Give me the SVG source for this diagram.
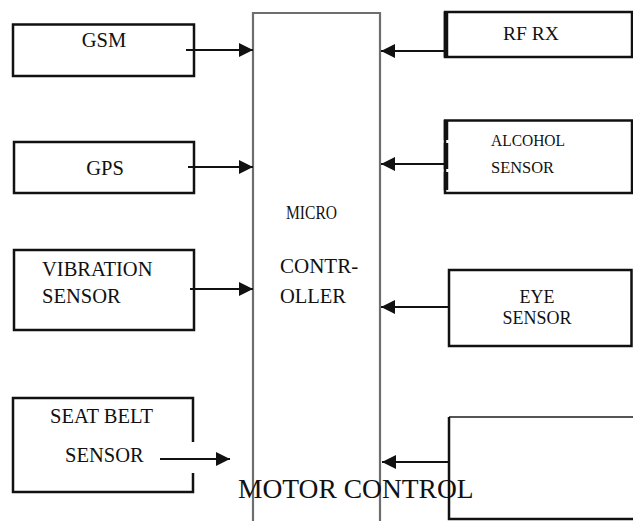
<svg xmlns="http://www.w3.org/2000/svg" width="633" height="521" viewBox="0 0 633 521">
<defs>
<style>
.box{fill:#fff;stroke:#111;stroke-width:2.5}
.t{font-family:'Liberation Serif','DejaVu Serif',serif;font-size:20.5px;fill:#111}
.s{font-size:17px}
.mc{fill:none;stroke:#6e6e6e;stroke-width:2.2}
.ln{stroke:#111;stroke-width:2.2;fill:none}
</style>
<marker id="ah" viewBox="0 0 10 10" refX="10" refY="5" markerUnits="userSpaceOnUse" markerWidth="15" markerHeight="14" orient="auto">
<path d="M0,0 L10,5 L0,10 z" fill="#111"/>
</marker>
</defs>
<rect width="633" height="521" fill="#fff"/>

<g id="microcontroller">
<path class="mc" d="M253,521 V13 H380 V521"/>
<text class="t" font-family="Liberation Serif, serif" x="286" y="219" textLength="51" lengthAdjust="spacingAndGlyphs" style="font-size:19px">MICRO</text>
<text class="t" font-family="Liberation Serif, serif" x="280" y="273" style="font-size:21px">CONTR-</text>
<text class="t" font-family="Liberation Serif, serif" x="280" y="303" style="font-size:20.5px">OLLER</text>
</g>

<g id="gsm">
<rect class="box" x="13" y="24.5" width="181" height="51.5"/>
<text class="t" font-family="Liberation Serif, serif" x="104" y="47" text-anchor="middle">GSM</text>
</g>

<g id="gps">
<rect class="box" x="14" y="142" width="180" height="51"/>
<text class="t" font-family="Liberation Serif, serif" x="105" y="175" text-anchor="middle">GPS</text>
</g>

<g id="vibration">
<rect class="box" x="14" y="250" width="180" height="80"/>
<text class="t" font-family="Liberation Serif, serif" x="42" y="276">VIBRATION</text>
<text class="t" font-family="Liberation Serif, serif" x="42" y="303">SENSOR</text>
</g>

<g id="seatbelt">
<path class="box" style="fill:none" d="M193,442 V398 H13 V492 H193 V473"/>
<text class="t" font-family="Liberation Serif, serif" x="50" y="423">SEAT BELT</text>
<text class="t" font-family="Liberation Serif, serif" x="65" y="462">SENSOR</text>
</g>

<g id="rfrx">
<rect class="box" x="445" y="12" width="187" height="45"/>
<line x1="446" y1="12" x2="446" y2="57" stroke="#111" stroke-width="4.5"/>
<text class="t" font-family="Liberation Serif, serif" x="503" y="40" textLength="56" lengthAdjust="spacingAndGlyphs" style="font-size:19px">RF RX</text>
</g>

<g id="alcohol">
<rect class="box" x="445" y="120.5" width="187" height="72.5"/>
<line x1="446" y1="120" x2="446" y2="193" stroke="#111" stroke-width="4.5" stroke-dasharray="20,3,26,3,18,3"/>
<text class="t s" font-family="Liberation Serif, serif" x="491" y="146" textLength="74" lengthAdjust="spacingAndGlyphs">ALCOHOL</text>
<text class="t s" font-family="Liberation Serif, serif" x="491" y="173" textLength="63" lengthAdjust="spacingAndGlyphs">SENSOR</text>
</g>

<g id="eye">
<rect class="box" x="449" y="270" width="182.5" height="76"/>
<text class="t" font-family="Liberation Serif, serif" x="537" y="303" text-anchor="middle" style="font-size:18px">EYE</text>
<text class="t" font-family="Liberation Serif, serif" x="537" y="324" text-anchor="middle" style="font-size:18px">SENSOR</text>
</g>

<g id="motorbox">
<path d="M449,417 H633" stroke="#555" stroke-width="2" fill="none"/>
<path d="M449,417 V519 H633" stroke="#111" stroke-width="2.5" fill="none"/>
</g>

<g id="connectors">
<line class="ln" x1="186" y1="50" x2="253" y2="50" marker-end="url(#ah)"/>
<line class="ln" x1="188" y1="167" x2="253" y2="167" marker-end="url(#ah)"/>
<line class="ln" x1="190" y1="289" x2="253" y2="289" marker-end="url(#ah)"/>
<line class="ln" x1="160" y1="459" x2="230" y2="459" marker-end="url(#ah)"/>
<line class="ln" x1="445" y1="51" x2="381" y2="51" marker-end="url(#ah)"/>
<line class="ln" x1="445" y1="164" x2="381" y2="164" marker-end="url(#ah)"/>
<line class="ln" x1="449" y1="307" x2="381" y2="307" marker-end="url(#ah)"/>
<line class="ln" x1="449" y1="462" x2="382" y2="462" marker-end="url(#ah)"/>
</g>

<text id="motor-control" class="t" font-family="Liberation Serif, serif" x="238" y="498" style="font-size:27.5px">MOTOR CONTROL</text>
</svg>
